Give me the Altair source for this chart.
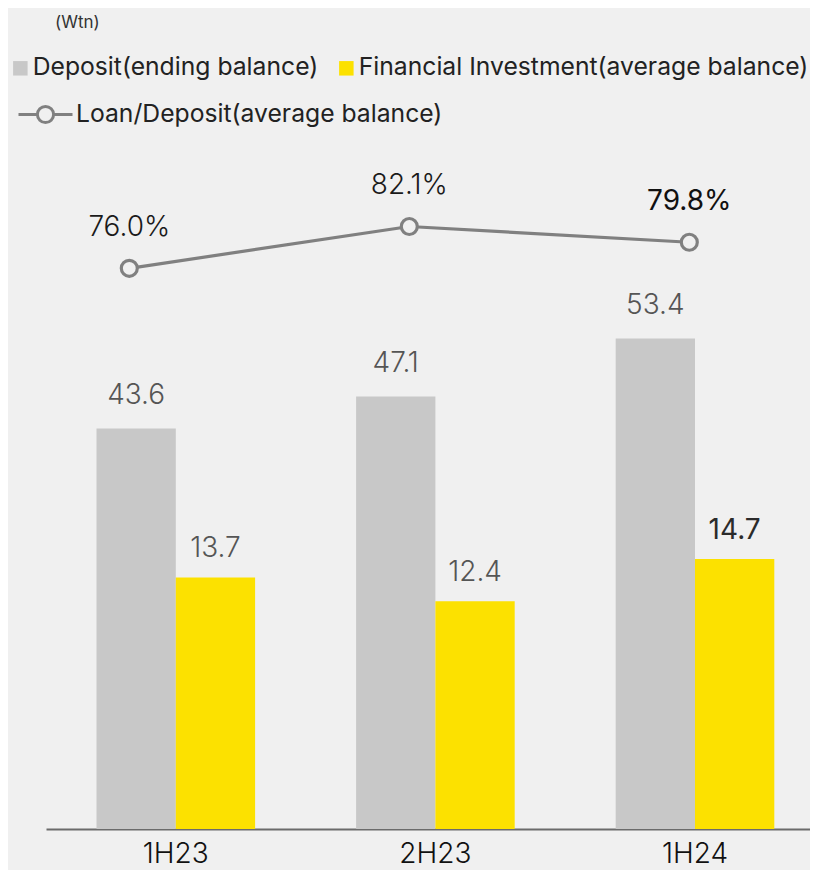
import altair as alt
import pandas as pd

periods = ["1H23", "2H23", "1H24"]
deposit = [43.6, 47.1, 53.4]
fin_inv = [13.7, 12.4, 14.7]
loan_dep = [76.0, 82.1, 79.8]

DEP = "Deposit(ending balance)"
FIN = "Financial Investment(average balance)"
LDR = "Loan/Deposit(average balance)"

rows = []
for p, d, f, l in zip(periods, deposit, fin_inv, loan_dep):
    rows.append({"period": p, "series": DEP, "value": d})
    rows.append({"period": p, "series": FIN, "value": f})
    rows.append({"period": p, "series": LDR, "value": l})
df = pd.DataFrame(rows)

FONT = "Inter"
BG = "#f0f0f0"
LAST = "1H24"

H = 679
W = 764

x_band = alt.Scale(type="band", domain=periods, range=[0, 778.8], paddingInner=0, paddingOuter=0)
x_point = alt.Scale(type="point", domain=periods, range=[83.3, 643.3], padding=0)

y_dep = alt.Scale(domain=[0, 73.93], nice=False, zero=False)
y_fin = alt.Scale(domain=[0, 36.98], nice=False, zero=False)
y_ldr = alt.Scale(domain=[-5.85, 93.27], nice=False, zero=False)

color_scale = alt.Scale(domain=[DEP, FIN], range=["#c8c8c8", "#fce100"])
stroke_scale = alt.Scale(domain=[LDR], range=["#808080"])

x_axis = alt.Axis(
    title=None, labelAngle=0, ticks=False, grid=False,
    domainColor="#6b6b6b", domainWidth=2,
    labelFont=FONT, labelFontSize=28, labelFontWeight=300, labelColor="#111111",
    labelBaseline="alphabetic", labelPadding=33,
)

def xb(axis=None):
    return alt.X("period:N", sort=periods, scale=x_band, axis=axis)

def xp():
    return alt.X("period:N", sort=periods, scale=x_point, axis=None)

bar_legend = alt.Legend(
    title=None, orient="none", legendX=-38, legendY=-94.5, direction="horizontal",
    symbolType="square", symbolSize=210, symbolStrokeWidth=0,
    labelFont=FONT, labelFontSize=24.7, labelColor="#222222", labelOffset=0,
    columnPadding=15, labelLimit=600, padding=0,
)

dep_bars = alt.Chart(df).transform_filter(alt.datum.series == DEP).mark_bar(
    width=79.3, xOffset=-39.65
).encode(
    x=xb(x_axis),
    y=alt.Y("value:Q", scale=y_dep, axis=None),
    color=alt.Color("series:N", scale=color_scale, legend=bar_legend),
)

fin_bars = alt.Chart(df).transform_filter(alt.datum.series == FIN).mark_bar(
    width=79.3, xOffset=39.65
).encode(
    x=xb(),
    y=alt.Y("value:Q", scale=y_fin, axis=None),
    color=alt.Color("series:N", scale=color_scale, legend=bar_legend),
)

def bar_labels(series, yscale, xoff, dy, hi):
    base = alt.Chart(df).transform_filter(alt.datum.series == series).transform_calculate(
        label="format(datum.value, '.1f')"
    )
    layers = []
    if hi:
        norm = base.transform_filter(alt.datum.period != LAST)
        high = base.transform_filter(alt.datum.period == LAST)
        layers.append(high.mark_text(
            font=FONT, fontSize=28, fontWeight=400, color="#2b2b2b",
            baseline="alphabetic", dy=dy, xOffset=xoff,
        ).encode(x=xb(), y=alt.Y("value:Q", scale=yscale, axis=None), text="label:N"))
    else:
        norm = base
    layers.insert(0, norm.mark_text(
        font=FONT, fontSize=28, fontWeight=300, color="#555555",
        baseline="alphabetic", dy=dy, xOffset=xoff,
    ).encode(x=xb(), y=alt.Y("value:Q", scale=yscale, axis=None), text="label:N"))
    return layers

line_legend = alt.Legend(
    title=None, orient="none", legendX=-29, legendY=-64,
    symbolType="M-1,0L-0.3,0M0.3,0L1,0M-0.3,0A0.3,0.3,0,1,0,0.3,0A0.3,0.3,0,1,0,-0.3,0",
    symbolSize=2916, symbolStrokeWidth=3, symbolFillColor=BG,
    labelFont=FONT, labelFontSize=24.7, labelColor="#222222", labelOffset=2,
    labelLimit=600, padding=0,
)

ldr_base = alt.Chart(df).transform_filter(alt.datum.series == LDR)

ldr_line = ldr_base.mark_line(strokeWidth=3.2).encode(
    x=xp(),
    y=alt.Y("value:Q", scale=y_ldr, axis=None),
    stroke=alt.Stroke("series:N", scale=stroke_scale, legend=line_legend),
)

ldr_pts = ldr_base.mark_point(
    shape="circle", size=256, filled=False, fill=BG, stroke="#808080",
    strokeWidth=3.2, opacity=1, fillOpacity=1,
).encode(
    x=xp(),
    y=alt.Y("value:Q", scale=y_ldr, axis=None),
)

ldr_lbl_base = ldr_base.transform_calculate(label="format(datum.value, '.1f') + '%'")
ldr_lbl = ldr_lbl_base.transform_filter(alt.datum.period != LAST).mark_text(
    font=FONT, fontSize=28, fontWeight=300, color="#1a1a1a",
    baseline="alphabetic", dy=-32.5,
).encode(x=xp(), y=alt.Y("value:Q", scale=y_ldr, axis=None), text="label:N")
ldr_lbl_hi = ldr_lbl_base.transform_filter(alt.datum.period == LAST).mark_text(
    font=FONT, fontSize=28, fontWeight=400, color="#111111",
    baseline="alphabetic", dy=-32.5,
).encode(x=xp(), y=alt.Y("value:Q", scale=y_ldr, axis=None), text="label:N")

unit = alt.Chart(alt.Data(values=[{"u": "(Wtn)"}])).mark_text(
    font=FONT, fontSize=17, color="#333333", align="left", baseline="alphabetic",
).encode(x=alt.value(9), y=alt.value(-122), text="u:N")

layers = [dep_bars, fin_bars]
layers += bar_labels(DEP, y_dep, -39.65, -24.5, False)
layers += bar_labels(FIN, y_fin, 39.65, -20, True)
layers += [ldr_line, ldr_pts, ldr_lbl, ldr_lbl_hi, unit]

chart = alt.layer(*layers).resolve_scale(
    x="independent", y="independent"
).properties(
    width=W, height=H,
    autosize=alt.AutoSizeParams(type="none"),
    padding={"left": 38, "top": 142, "right": 0, "bottom": 41},
    background=BG,
).configure_view(stroke=None)

chart.save("out.html", embed_options={"renderer": "svg", "actions": False})
